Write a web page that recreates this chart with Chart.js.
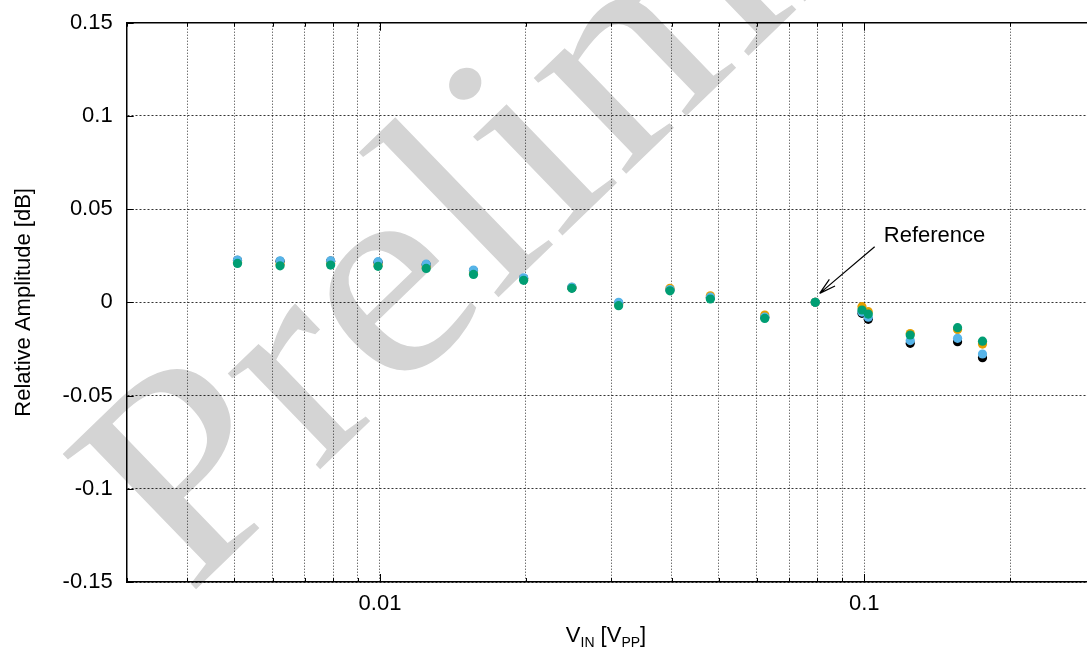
<!DOCTYPE html>
<html>
<head>
<meta charset="utf-8">
<script src="https://cdn.jsdelivr.net/npm/chart.js@4/dist/chart.umd.min.js"></script>
<style>
  html, body { margin: 0; padding: 0; background: #fff; overflow: hidden; }
  #area { width: 1100px; height: 654px; position: relative; }
</style>
</head>
<body>
<div id="area"><canvas id="amplitudeChart"></canvas></div>
<script>
// tensão de entrada (V_PP) de cada medida
const vIn = [0.00508, 0.00622, 0.00791, 0.00991, 0.01246, 0.0156, 0.0198, 0.0249, 0.0311,
  0.0397, 0.0481, 0.0623, 0.0792, 0.0989, 0.1019, 0.1244, 0.1558, 0.1754];

// amplitude relativa em dB, uma lista por canal
const ampPreto = [0.0225, 0.0220, 0.0221, 0.0215, 0.0202, 0.0170, 0.0128, 0.0078, -0.0005,
  0.0068, 0.0025, -0.0080, 0, -0.0059, -0.0091, -0.0220, -0.0211, -0.0297];
const ampLaranja = [0.0215, 0.0205, 0.0210, 0.0200, 0.0190, 0.0158, 0.0125, 0.0080, -0.0010,
  0.0075, 0.0035, -0.0068, 0, -0.0023, -0.0050, -0.0167, -0.0146, -0.0224];
const ampAzul = [0.0227, 0.0223, 0.0223, 0.0218, 0.0205, 0.0173, 0.0132, 0.0082, 0.0000,
  0.0069, 0.0028, -0.0079, 0, -0.0052, -0.0080, -0.0205, -0.0193, -0.0277];
const ampVerde = [0.0209, 0.0196, 0.0200, 0.0193, 0.0182, 0.0150, 0.0118, 0.0075, -0.0018,
  0.0062, 0.0018, -0.0086, 0, -0.0041, -0.0063, -0.0175, -0.0136, -0.0208];

// ticks e linhas de grade
const xTicks = [0.003, 0.004, 0.005, 0.006, 0.007, 0.008, 0.009, 0.01,
  0.02, 0.03, 0.04, 0.05, 0.06, 0.07, 0.08, 0.09, 0.1, 0.2, 0.3];
const xTickLabels = ["", "", "", "", "", "", "", "0.01",
  "", "", "", "", "", "", "", "", "0.1", "", ""];
const yTicks = [-0.15, -0.1, -0.05, 0, 0.05, 0.1, 0.15];
const yTickLabels = ["-0.15", "-0.1", "-0.05", "0", "0.05", "0.1", "0.15"];

const refX = 0.0792; // ponto de referência
const FONTE = '"Liberation Sans", Arial, sans-serif';

function pontos(valores) {
  return vIn.map((x, i) => ({ x: x, y: valores[i] }));
}

function serie(nome, valores, cor, ordem) {
  return {
    label: nome,
    data: pontos(valores),
    backgroundColor: cor,
    borderColor: cor,
    borderWidth: 0,
    pointRadius: 4.6,
    pointHoverRadius: 4.6,
    showLine: false,
    order: ordem,
  };
}

// marca d'água, moldura, ticks internos, títulos e anotação
const decoracao = {
  id: "decoracao",
  beforeDraw(chart) {
    const ctx = chart.ctx;
    ctx.save();
    ctx.translate(188, 597);
    ctx.rotate(-44 * Math.PI / 180);
    ctx.scale(1.1, 1);
    ctx.font = '290px "Liberation Serif", "Times New Roman", serif';
    ctx.fillStyle = "#d4d4d4";
    ctx.textBaseline = "alphabetic";
    ctx.fillText("Preliminary", 0, 0);
    ctx.restore();
  },
  afterDraw(chart) {
    const ctx = chart.ctx;
    const a = chart.chartArea;
    const sx = chart.scales.x;
    const sy = chart.scales.y;
    ctx.save();
    ctx.strokeStyle = "#000";
    ctx.lineWidth = 1.5;
    ctx.beginPath();
    ctx.moveTo(a.left, a.top);
    ctx.lineTo(a.right + 2, a.top);
    ctx.stroke();

    ctx.lineWidth = 1;
    xTicks.forEach((v, i) => {
      const px = Math.round(sx.getPixelForValue(v)) + 0.5;
      const len = xTickLabels[i] ? 8 : 4;
      ctx.beginPath();
      ctx.moveTo(px, a.bottom);
      ctx.lineTo(px, a.bottom - len);
      ctx.moveTo(px, a.top);
      ctx.lineTo(px, a.top + len);
      ctx.stroke();
    });
    yTicks.forEach((v) => {
      const py = Math.round(sy.getPixelForValue(v)) + 0.5;
      ctx.beginPath();
      ctx.moveTo(a.left, py);
      ctx.lineTo(a.left + 7, py);
      ctx.stroke();
    });

    // título do eixo y
    ctx.fillStyle = "#000";
    ctx.font = "22px " + FONTE;
    ctx.save();
    ctx.translate(24, (a.top + a.bottom) / 2);
    ctx.rotate(-Math.PI / 2);
    ctx.textAlign = "center";
    ctx.textBaseline = "middle";
    ctx.fillText("Relative Amplitude [dB]", 0, 0);
    ctx.restore();

    // título do eixo x com subscritos
    const partes = [
      ["V", false], ["IN", true], [" [V", false], ["PP", true], ["]", false],
    ];
    const fNormal = "22px " + FONTE;
    const fSub = "14px " + FONTE;
    let largura = 0;
    partes.forEach((p) => {
      ctx.font = p[1] ? fSub : fNormal;
      largura += ctx.measureText(p[0]).width;
    });
    let cx = 606 - largura / 2;
    const base = 642;
    ctx.textAlign = "left";
    ctx.textBaseline = "alphabetic";
    partes.forEach((p) => {
      ctx.font = p[1] ? fSub : fNormal;
      ctx.fillText(p[0], cx, p[1] ? base + 5 : base);
      cx += ctx.measureText(p[0]).width;
    });

    // anotação "Reference"
    const rx = sx.getPixelForValue(refX);
    const ry = sy.getPixelForValue(0);
    const tipX = rx + 4.4, tipY = ry - 9;
    const iniX = rx + 59.4, iniY = ry - 55.6;
    ctx.font = fNormal;
    ctx.fillText("Reference", rx + 68.5, ry - 60.6);
    ctx.lineWidth = 1.2;
    ctx.beginPath();
    ctx.moveTo(iniX, iniY);
    ctx.lineTo(tipX, tipY);
    const ang = Math.atan2(iniY - tipY, iniX - tipX);
    const cab = 17;
    [-0.26, 0.26].forEach((d) => {
      ctx.moveTo(tipX, tipY);
      ctx.lineTo(tipX + cab * Math.cos(ang + d), tipY + cab * Math.sin(ang + d));
    });
    ctx.stroke();
    ctx.restore();
  },
};

const ctx = document.getElementById("amplitudeChart").getContext("2d");
const grafico = new Chart(ctx, {
  type: "scatter",
  data: {
    datasets: [
      serie("Canal 1", ampPreto, "#000000", 3),
      serie("Canal 2", ampLaranja, "#E69F00", 2),
      serie("Canal 3", ampAzul, "#56B4E9", 1),
      serie("Canal 4", ampVerde, "#009E73", 0),
    ],
  },
  options: {
    responsive: true,
    maintainAspectRatio: false,
    animation: false,
    layout: { padding: { top: 22.7, right: 1.7, left: 0, bottom: 0 } },
    plugins: {
      legend: { display: false },
      tooltip: { enabled: false },
    },
    scales: {
      x: {
        type: "logarithmic",
        min: 0.003,
        max: 0.3,
        afterBuildTicks: (scale) => {
          scale.ticks = xTicks.map((v) => ({ value: v }));
        },
        afterFit: (scale) => {
          scale.height = 72;
          scale.paddingLeft = 0;
          scale.paddingRight = 0;
        },
        ticks: {
          autoSkip: false,
          maxRotation: 0,
          padding: 9,
          color: "#000",
          font: { family: FONTE, size: 22 },
          callback: (value, index) => xTickLabels[index],
        },
        grid: {
          color: "rgba(0,0,0,0.8)",
          lineWidth: 1,
          drawTicks: false,
        },
        border: { display: true, color: "#000", width: 1.5, dash: [1, 2] },
      },
      y: {
        min: -0.15,
        max: 0.15,
        afterBuildTicks: (scale) => {
          scale.ticks = yTicks.map((v) => ({ value: v }));
        },
        afterFit: (scale) => {
          scale.width = 126.7;
          scale.paddingTop = 0;
          scale.paddingBottom = 0;
        },
        ticks: {
          padding: 14,
          color: "#000",
          font: { family: FONTE, size: 22 },
          callback: (value, index) => yTickLabels[index],
        },
        grid: {
          color: "rgba(0,0,0,0.8)",
          lineWidth: 1,
          drawTicks: false,
        },
        border: { display: true, color: "#000", width: 1.5, dash: [2, 2] },
      },
    },
  },
  plugins: [decoracao],
});
</script>
</body>
</html>
